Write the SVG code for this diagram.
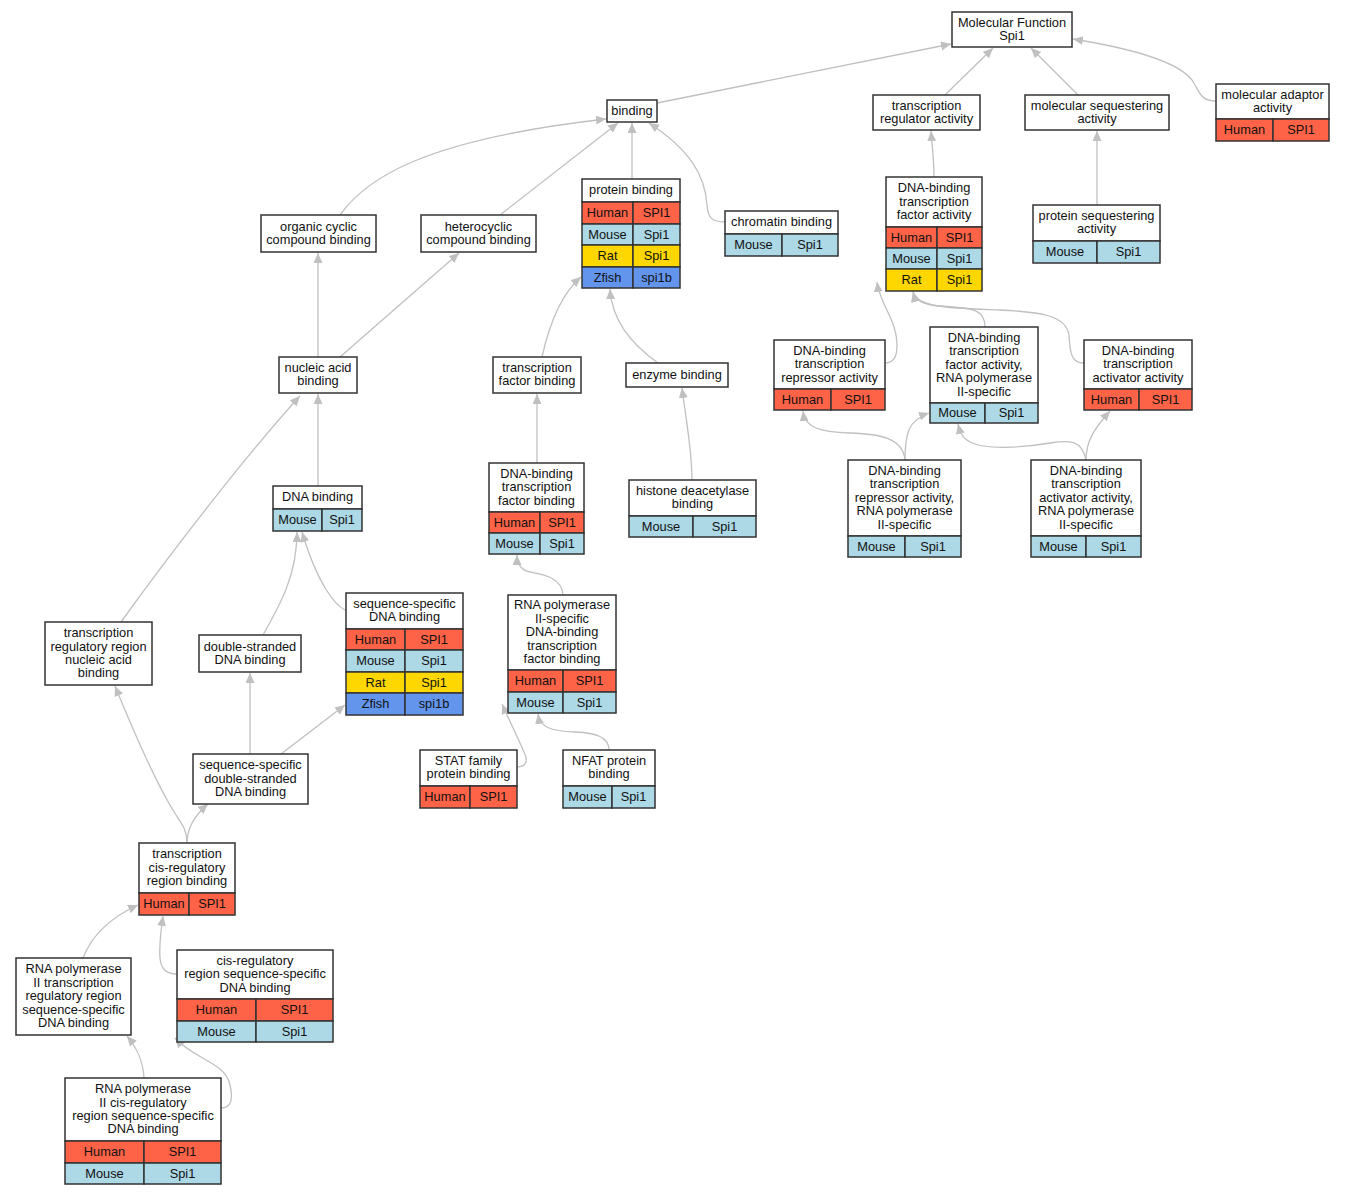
<svg xmlns="http://www.w3.org/2000/svg" width="1345" height="1195" viewBox="0 0 1345 1195">
<defs>
<marker id="a" markerUnits="userSpaceOnUse" markerWidth="12" markerHeight="10" refX="10" refY="4.5" orient="auto"><path d="M0,0 L10,4.5 L0,9 z" fill="#c0c0c0"/></marker>
<style>
.bg{fill:#fff}
.n rect{stroke:#333;stroke-width:1.5;fill:#fff}
.n rect.h{fill:#ff6347}
.n rect.m{fill:#add8e6}
.n rect.r{fill:#ffd700}
.n rect.z{fill:#6495ed}
text{font-family:"Liberation Sans",Arial,sans-serif;font-size:12.8px;text-anchor:middle;fill:#111}
#edges path{fill:none;stroke:#c0c0c0;stroke-width:1.3;marker-end:url(#a)}
</style>
</defs>
<rect class="bg" x="0" y="0" width="1345" height="1195"/>
<g id="edges">
<path d="M657,103 L951,44"/>
<path d="M945,95 L993,48"/>
<path d="M1078,95 L1031,48"/>
<path d="M1216,101 C1200,101 1200,92 1192,80 C1175,58 1110,45 1073,39"/>
<path d="M340,215 C365,180 420,140 606,119"/>
<path d="M500,215 L618,123"/>
<path d="M632,179 L632,123"/>
<path d="M725,222 C712,222 708,218 707,205 C705,175 690,150 649,123"/>
<path d="M934,177 C934,160 932,145 931,131"/>
<path d="M1097,205 L1097,131"/>
<path d="M318,357 L318,253"/>
<path d="M340,357 L459,253"/>
<path d="M542,357 C548,330 560,295 581,277"/>
<path d="M658,363 C630,343 612,320 610,289"/>
<path d="M886,363 C895,362 897,355 897,345 C897,320 880,305 877,282"/>
<path d="M985,327 C985,310 975,308 940,306 C922,305 915,300 913,292"/>
<path d="M1084,363 C1072,363 1070,355 1069,335 C1066,315 1040,312 1000,310 C950,308 918,308 913,292"/>
<path d="M318,486 L318,394"/>
<path d="M537,463 L537,394"/>
<path d="M692,480 C692,450 686,420 682,388"/>
<path d="M905,460 C903,438 880,434 850,433 C820,432 805,428 803,411"/>
<path d="M905,460 C905,435 908,420 929,413"/>
<path d="M1086,460 C1082,440 1070,440 1050,443 C1020,448 985,450 970,442 C962,438 960,432 958,424"/>
<path d="M1086,460 C1086,440 1095,428 1110,411"/>
<path d="M121,622 C180,540 255,445 300,396"/>
<path d="M263,635 C280,605 297,575 297,532"/>
<path d="M345,610 C335,605 318,585 302,532"/>
<path d="M563,595 C562,578 545,575 530,572 C521,570 517,565 517,555"/>
<path d="M250,754 L250,673"/>
<path d="M281,754 L345,705"/>
<path d="M517,767 C527,767 528,760 524,752 C518,738 510,722 502,704"/>
<path d="M609,750 C609,737 596,733 575,732 C550,731 540,727 538,714"/>
<path d="M187,843 C187,830 182,824 176,815 C160,790 135,735 115,686"/>
<path d="M187,843 C187,828 195,815 208,804"/>
<path d="M83,958 C90,940 105,920 138,905"/>
<path d="M177,974 C165,974 161,968 160,958 C159,945 161,930 163,916"/>
<path d="M144,1078 C143,1060 137,1048 127,1036"/>
<path d="M221,1108 C232,1108 233,1098 230,1085 C225,1062 195,1060 175,1038"/>
</g>

<g id="n_mf" class="n"><rect x="952" y="12" width="120" height="35"/><text x="1012" y="26.5">Molecular Function</text><text x="1012" y="39.9">Spi1</text></g>

<g id="n_binding" class="n"><rect x="607" y="100" width="50" height="22"/><text x="632" y="114.7">binding</text></g>

<g id="n_tra" class="n"><rect x="873" y="95" width="107" height="35"/><text x="926.5" y="109.5">transcription</text><text x="926.5" y="122.9">regulator activity</text></g>

<g id="n_msa" class="n"><rect x="1025" y="95" width="144" height="35"/><text x="1097" y="109.5">molecular sequestering</text><text x="1097" y="122.9">activity</text></g>

<g id="n_mad" class="n"><rect x="1216" y="84" width="113" height="35"/><text x="1272.5" y="98.5">molecular adaptor</text><text x="1272.5" y="111.9">activity</text>
<rect class="h" x="1216" y="119" width="57" height="22"/><rect class="h" x="1273" y="119" width="56" height="22"/><text x="1244.5" y="134">Human</text><text x="1301" y="134">SPI1</text></g>

<g id="n_occ" class="n"><rect x="261" y="215" width="115" height="37"/><text x="318.5" y="230.5">organic cyclic</text><text x="318.5" y="243.9">compound binding</text></g>

<g id="n_hcc" class="n"><rect x="421" y="215" width="115" height="37"/><text x="478.5" y="230.5">heterocyclic</text><text x="478.5" y="243.9">compound binding</text></g>

<g id="n_pb" class="n"><rect x="582" y="179" width="98" height="23"/><text x="631" y="194.2">protein binding</text>
<rect class="h" x="582" y="202" width="51" height="22"/><rect class="h" x="633" y="202" width="47" height="22"/><text x="607.5" y="217">Human</text><text x="656.5" y="217">SPI1</text>
<rect class="m" x="582" y="224" width="51" height="21"/><rect class="m" x="633" y="224" width="47" height="21"/><text x="607.5" y="238.5">Mouse</text><text x="656.5" y="238.5">Spi1</text>
<rect class="r" x="582" y="245" width="51" height="22"/><rect class="r" x="633" y="245" width="47" height="22"/><text x="607.5" y="260">Rat</text><text x="656.5" y="260">Spi1</text>
<rect class="z" x="582" y="267" width="51" height="21"/><rect class="z" x="633" y="267" width="47" height="21"/><text x="607.5" y="281.5">Zfish</text><text x="656.5" y="281.5">spi1b</text></g>

<g id="n_chr" class="n"><rect x="725" y="211" width="113" height="23"/><text x="781.5" y="226.2">chromatin binding</text>
<rect class="m" x="725" y="234" width="57" height="22"/><rect class="m" x="782" y="234" width="56" height="22"/><text x="753.5" y="249">Mouse</text><text x="810" y="249">Spi1</text></g>

<g id="n_dtfa" class="n"><rect x="886" y="177" width="96" height="50"/><text x="934" y="192.3">DNA-binding</text><text x="934" y="205.7">transcription</text><text x="934" y="219.1">factor activity</text>
<rect class="h" x="886" y="227" width="51" height="21"/><rect class="h" x="937" y="227" width="45" height="21"/><text x="911.5" y="241.5">Human</text><text x="959.5" y="241.5">SPI1</text>
<rect class="m" x="886" y="248" width="51" height="21"/><rect class="m" x="937" y="248" width="45" height="21"/><text x="911.5" y="262.5">Mouse</text><text x="959.5" y="262.5">Spi1</text>
<rect class="r" x="886" y="269" width="51" height="22"/><rect class="r" x="937" y="269" width="45" height="22"/><text x="911.5" y="284">Rat</text><text x="959.5" y="284">Spi1</text></g>

<g id="n_psa" class="n"><rect x="1033" y="205" width="127" height="36"/><text x="1096.5" y="220">protein sequestering</text><text x="1096.5" y="233.4">activity</text>
<rect class="m" x="1033" y="241" width="64" height="22"/><rect class="m" x="1097" y="241" width="63" height="22"/><text x="1065" y="256">Mouse</text><text x="1128.5" y="256">Spi1</text></g>

<g id="n_nab" class="n"><rect x="279" y="357" width="78" height="36"/><text x="318" y="372">nucleic acid</text><text x="318" y="385.4">binding</text></g>

<g id="n_tfb" class="n"><rect x="493" y="357" width="88" height="36"/><text x="537" y="372">transcription</text><text x="537" y="385.4">factor binding</text></g>

<g id="n_enz" class="n"><rect x="626" y="363" width="102" height="24"/><text x="677" y="378.7">enzyme binding</text></g>

<g id="n_rep" class="n"><rect x="774" y="340" width="111" height="49"/><text x="829.5" y="354.8">DNA-binding</text><text x="829.5" y="368.2">transcription</text><text x="829.5" y="381.6">repressor activity</text>
<rect class="h" x="774" y="389" width="57" height="21"/><rect class="h" x="831" y="389" width="54" height="21"/><text x="802.5" y="403.5">Human</text><text x="858" y="403.5">SPI1</text></g>

<g id="n_tfa2" class="n"><rect x="930" y="327" width="108" height="76"/><text x="984" y="341.9">DNA-binding</text><text x="984" y="355.3">transcription</text><text x="984" y="368.7">factor activity,</text><text x="984" y="382.1">RNA polymerase</text><text x="984" y="395.5">II-specific</text>
<rect class="m" x="930" y="403" width="55" height="20"/><rect class="m" x="985" y="403" width="53" height="20"/><text x="957.5" y="417">Mouse</text><text x="1011.5" y="417">Spi1</text></g>

<g id="n_act" class="n"><rect x="1084" y="340" width="108" height="49"/><text x="1138" y="354.8">DNA-binding</text><text x="1138" y="368.2">transcription</text><text x="1138" y="381.6">activator activity</text>
<rect class="h" x="1084" y="389" width="55" height="21"/><rect class="h" x="1139" y="389" width="53" height="21"/><text x="1111.5" y="403.5">Human</text><text x="1165.5" y="403.5">SPI1</text></g>

<g id="n_dnab" class="n"><rect x="273" y="486" width="89" height="23"/><text x="317.5" y="501.2">DNA binding</text>
<rect class="m" x="273" y="509" width="49" height="22"/><rect class="m" x="322" y="509" width="40" height="22"/><text x="297.5" y="524">Mouse</text><text x="342" y="524">Spi1</text></g>

<g id="n_dtfb" class="n"><rect x="489" y="463" width="95" height="49"/><text x="536.5" y="477.8">DNA-binding</text><text x="536.5" y="491.2">transcription</text><text x="536.5" y="504.6">factor binding</text>
<rect class="h" x="489" y="512" width="51" height="21"/><rect class="h" x="540" y="512" width="44" height="21"/><text x="514.5" y="526.5">Human</text><text x="562" y="526.5">SPI1</text>
<rect class="m" x="489" y="533" width="51" height="21"/><rect class="m" x="540" y="533" width="44" height="21"/><text x="514.5" y="547.5">Mouse</text><text x="562" y="547.5">Spi1</text></g>

<g id="n_hdb" class="n"><rect x="629" y="480" width="127" height="36"/><text x="692.5" y="495">histone deacetylase</text><text x="692.5" y="508.4">binding</text>
<rect class="m" x="629" y="516" width="64" height="21"/><rect class="m" x="693" y="516" width="63" height="21"/><text x="661" y="530.5">Mouse</text><text x="724.5" y="530.5">Spi1</text></g>

<g id="n_rep2" class="n"><rect x="848" y="460" width="113" height="76"/><text x="904.5" y="474.9">DNA-binding</text><text x="904.5" y="488.3">transcription</text><text x="904.5" y="501.7">repressor activity,</text><text x="904.5" y="515.1">RNA polymerase</text><text x="904.5" y="528.5">II-specific</text>
<rect class="m" x="848" y="536" width="57" height="21"/><rect class="m" x="905" y="536" width="56" height="21"/><text x="876.5" y="550.5">Mouse</text><text x="933" y="550.5">Spi1</text></g>

<g id="n_act2" class="n"><rect x="1031" y="460" width="110" height="76"/><text x="1086" y="474.9">DNA-binding</text><text x="1086" y="488.3">transcription</text><text x="1086" y="501.7">activator activity,</text><text x="1086" y="515.1">RNA polymerase</text><text x="1086" y="528.5">II-specific</text>
<rect class="m" x="1031" y="536" width="55" height="21"/><rect class="m" x="1086" y="536" width="55" height="21"/><text x="1058.5" y="550.5">Mouse</text><text x="1113.5" y="550.5">Spi1</text></g>

<g id="n_trr" class="n"><rect x="45" y="622" width="107" height="63"/><text x="98.5" y="637.1">transcription</text><text x="98.5" y="650.5">regulatory region</text><text x="98.5" y="663.9">nucleic acid</text><text x="98.5" y="677.3">binding</text></g>

<g id="n_dsb" class="n"><rect x="199" y="635" width="102" height="37"/><text x="250" y="650.5">double-stranded</text><text x="250" y="663.9">DNA binding</text></g>

<g id="n_ssb" class="n"><rect x="346" y="593" width="117" height="36"/><text x="404.5" y="608">sequence-specific</text><text x="404.5" y="621.4">DNA binding</text>
<rect class="h" x="346" y="629" width="59" height="21"/><rect class="h" x="405" y="629" width="58" height="21"/><text x="375.5" y="643.5">Human</text><text x="434" y="643.5">SPI1</text>
<rect class="m" x="346" y="650" width="59" height="22"/><rect class="m" x="405" y="650" width="58" height="22"/><text x="375.5" y="665">Mouse</text><text x="434" y="665">Spi1</text>
<rect class="r" x="346" y="672" width="59" height="21"/><rect class="r" x="405" y="672" width="58" height="21"/><text x="375.5" y="686.5">Rat</text><text x="434" y="686.5">Spi1</text>
<rect class="z" x="346" y="693" width="59" height="22"/><rect class="z" x="405" y="693" width="58" height="22"/><text x="375.5" y="708">Zfish</text><text x="434" y="708">spi1b</text></g>

<g id="n_rtfb" class="n"><rect x="508" y="595" width="108" height="75"/><text x="562" y="609.4">RNA polymerase</text><text x="562" y="622.8">II-specific</text><text x="562" y="636.2">DNA-binding</text><text x="562" y="649.6">transcription</text><text x="562" y="663">factor binding</text>
<rect class="h" x="508" y="670" width="55" height="22"/><rect class="h" x="563" y="670" width="53" height="22"/><text x="535.5" y="685">Human</text><text x="589.5" y="685">SPI1</text>
<rect class="m" x="508" y="692" width="55" height="21"/><rect class="m" x="563" y="692" width="53" height="21"/><text x="535.5" y="706.5">Mouse</text><text x="589.5" y="706.5">Spi1</text></g>

<g id="n_ssds" class="n"><rect x="193" y="754" width="115" height="50"/><text x="250.5" y="769.3">sequence-specific</text><text x="250.5" y="782.7">double-stranded</text><text x="250.5" y="796.1">DNA binding</text></g>

<g id="n_stat" class="n"><rect x="420" y="750" width="97" height="36"/><text x="468.5" y="765">STAT family</text><text x="468.5" y="778.4">protein binding</text>
<rect class="h" x="420" y="786" width="50" height="22"/><rect class="h" x="470" y="786" width="47" height="22"/><text x="445" y="801">Human</text><text x="493.5" y="801">SPI1</text></g>

<g id="n_nfat" class="n"><rect x="563" y="750" width="92" height="36"/><text x="609" y="765">NFAT protein</text><text x="609" y="778.4">binding</text>
<rect class="m" x="563" y="786" width="49" height="22"/><rect class="m" x="612" y="786" width="43" height="22"/><text x="587.5" y="801">Mouse</text><text x="633.5" y="801">Spi1</text></g>

<g id="n_tcrb" class="n"><rect x="139" y="843" width="96" height="50"/><text x="187" y="858.3">transcription</text><text x="187" y="871.7">cis-regulatory</text><text x="187" y="885.1">region binding</text>
<rect class="h" x="139" y="893" width="50" height="22"/><rect class="h" x="189" y="893" width="46" height="22"/><text x="164" y="908">Human</text><text x="212" y="908">SPI1</text></g>

<g id="n_rtrr" class="n"><rect x="16" y="958" width="115" height="77"/><text x="73.5" y="973.4">RNA polymerase</text><text x="73.5" y="986.8">II transcription</text><text x="73.5" y="1000.2">regulatory region</text><text x="73.5" y="1013.6">sequence-specific</text><text x="73.5" y="1027">DNA binding</text></g>

<g id="n_crsb" class="n"><rect x="177" y="950" width="156" height="49"/><text x="255" y="964.8">cis-regulatory</text><text x="255" y="978.2">region sequence-specific</text><text x="255" y="991.6">DNA binding</text>
<rect class="h" x="177" y="999" width="79" height="22"/><rect class="h" x="256" y="999" width="77" height="22"/><text x="216.5" y="1014">Human</text><text x="294.5" y="1014">SPI1</text>
<rect class="m" x="177" y="1021" width="79" height="21"/><rect class="m" x="256" y="1021" width="77" height="21"/><text x="216.5" y="1035.5">Mouse</text><text x="294.5" y="1035.5">Spi1</text></g>

<g id="n_rcrs" class="n"><rect x="65" y="1078" width="156" height="63"/><text x="143" y="1093.1">RNA polymerase</text><text x="143" y="1106.5">II cis-regulatory</text><text x="143" y="1119.9">region sequence-specific</text><text x="143" y="1133.3">DNA binding</text>
<rect class="h" x="65" y="1141" width="79" height="22"/><rect class="h" x="144" y="1141" width="77" height="22"/><text x="104.5" y="1156">Human</text><text x="182.5" y="1156">SPI1</text>
<rect class="m" x="65" y="1163" width="79" height="21"/><rect class="m" x="144" y="1163" width="77" height="21"/><text x="104.5" y="1177.5">Mouse</text><text x="182.5" y="1177.5">Spi1</text></g>
</svg>
